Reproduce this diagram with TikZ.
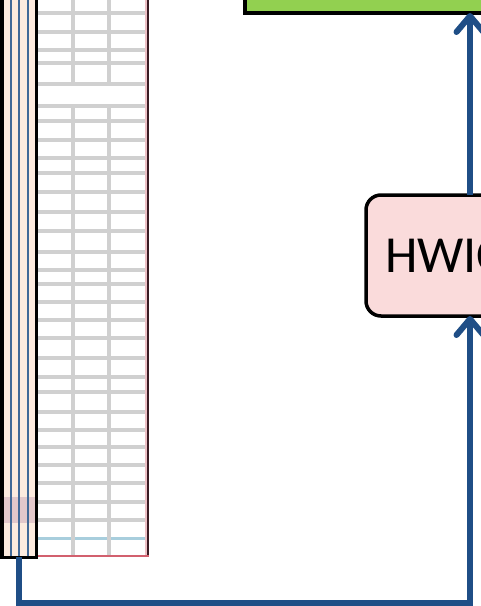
\documentclass[tikz,border=0pt]{standalone}
\usepackage{fontspec}
\setmainfont{Carlito}
\usepackage{tikz}
\usetikzlibrary{arrows.meta}
\definecolor{linkblue}{HTML}{1F4E86}
\definecolor{hwicpink}{HTML}{FADBDB}
\definecolor{routergreen}{HTML}{92D050}
\definecolor{portpeach}{HTML}{FDEBDF}
\definecolor{portmark}{HTML}{E3C8CB}
\definecolor{gridgray}{HTML}{D0D0D0}
\definecolor{tabledark}{HTML}{3A1C24}
\definecolor{tablered}{HTML}{D2606E}

\begin{document}
\begin{tikzpicture}[x=1pt, y=-1pt,
  link/.style={draw=linkblue, line width=6pt, -{Straight Barb[length=16pt,width=27pt,round]}},
  box/.style={draw=black, line width=3.5pt, outer sep=0pt}]
\useasboundingbox (0,0) rectangle (481,606);
\clip (0,0) rectangle (481,606);

% sheet with the port list
\fill[white] (37,-10) rectangle (147,555);
\foreach \y in {13,32,50,63,84,106,121,140,158,173,192,212,231,252,270,284,302,320,338,358,377,392,412,430,447,465,483,502,520}
  \draw[gridgray, line width=3.5pt] (38,\y) -- (146,\y);
\draw[cyan!25!gridgray, line width=3pt] (38,538) -- (146,538);
\foreach \x in {73,109} {
  \draw[gridgray, line width=3.5pt] (\x,-10) -- (\x,86);
  \draw[gridgray, line width=3.5pt] (\x,106) -- (\x,555);
}
\draw[tablered!40, line width=2pt] (145.5,-10) -- (145.5,555);
\draw[tabledark, line width=2.5pt] (148,-10) -- (148,556);
\draw[tablered, line width=2.5pt] (37,556) -- (149,556);

% port strip
\node[box, line width=3pt, fill=portpeach, minimum width=34pt, minimum height=600pt, inner sep=0pt, anchor=south west] (strip) at (2,557) {};
\fill[portmark] (3,497) rectangle (35,523);
\foreach \x in {11,19,28}
  \draw[linkblue!85, line width=1.8pt] (\x,-10) -- (\x,556);
\draw[black, line width=3pt] (strip.south west) rectangle (strip.north east);

% modules
\node[box, rounded corners=15pt, fill=hwicpink, minimum height=121pt, text width=170pt, inner xsep=19pt, align=left, font=\fontsize{52}{60}\selectfont] (hwic) at (470,255.5) {HWIC};
\node[box, fill=routergreen, minimum width=450pt, minimum height=100pt, anchor=south west] (router) at (245,13) {};

% links
\coordinate (bend) at (19,603);
\draw[link] (strip.south) -- (bend) -| (hwic.south);
\draw[link] (hwic.north) -- (router.south);
\end{tikzpicture}
\end{document}
